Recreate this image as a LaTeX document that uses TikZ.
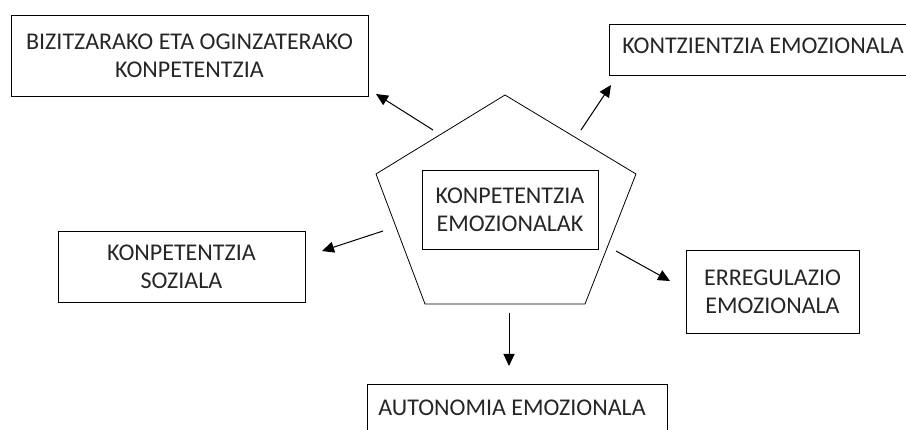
\documentclass[tikz,border=0pt]{standalone}
\usepackage{fontspec}
\setmainfont{Carlito}
\usetikzlibrary{arrows.meta}
\tikzset{
  box/.style={draw, line width=0.9pt, align=center, inner sep=0pt, font=\fontsize{24}{28}\selectfont, text=black!85},
  lbl/.style={font=\fontsize{24}{28}\selectfont, text=black!85, inner sep=0pt},
  arr/.style={-{Triangle[length=12pt,width=11pt]}, line width=1pt},
  pent/.style={draw, line width=0.8pt}
}
\begin{document}
\begin{tikzpicture}[x=1pt,y=-1pt]
\useasboundingbox (0,0) rectangle (906,430);
\clip (0,0) rectangle (906,430);
% boxes
\node[box, minimum width=357pt, minimum height=81pt] (bizi) at (189.5,55.5) {BIZITZARAKO ETA OGINZATERAKO\\KONPETENTZIA};
\node[box, minimum width=311pt, minimum height=51pt] (kontz) at (764.5,49.5) {};
\node[lbl] (kontzt) at (763,46) {KONTZIENTZIA EMOZIONALA};
\node[box, minimum width=247pt, minimum height=71pt] (soz) at (181.5,266.5) {KONPETENTZIA\\SOZIALA};
\node[box, minimum width=173pt, minimum height=83pt] (erreg) at (772.5,291.5) {ERREGULAZIO\\EMOZIONALA};
\node[box, minimum width=300pt, minimum height=70pt] (auto) at (517,419) {};
\node[lbl] (autot) at (512,408) {AUTONOMIA EMOZIONALA};
% pentagon
\coordinate (pt) at (505,95);
\coordinate (pr) at (636,174);
\coordinate (pbr) at (585,304);
\coordinate (pbl) at (425,304);
\coordinate (pl) at (376,174);
\draw[pent] (pt) -- (pr) -- (pbr) -- (pbl) -- (pl) -- cycle;
\node[box, minimum width=176pt, minimum height=79pt] (center) at (510,209.5) {KONPETENTZIA\\EMOZIONALAK};
% arrows
\coordinate (a1s) at (433,130); \coordinate (a1e) at (376,94);
\coordinate (a2s) at (581,130); \coordinate (a2e) at (611,85);
\coordinate (a3s) at (383,231); \coordinate (a3e) at (322,251);
\coordinate (a4s) at (616,251); \coordinate (a4e) at (670,281);
\coordinate (a5s) at (509,313); \coordinate (a5e) at (509,366);
\draw[arr] (a1s) -- (a1e);
\draw[arr] (a2s) -- (a2e);
\draw[arr] (a3s) -- (a3e);
\draw[arr] (a4s) -- (a4e);
\draw[arr] (a5s) -- (a5e);
\end{tikzpicture}
\end{document}
